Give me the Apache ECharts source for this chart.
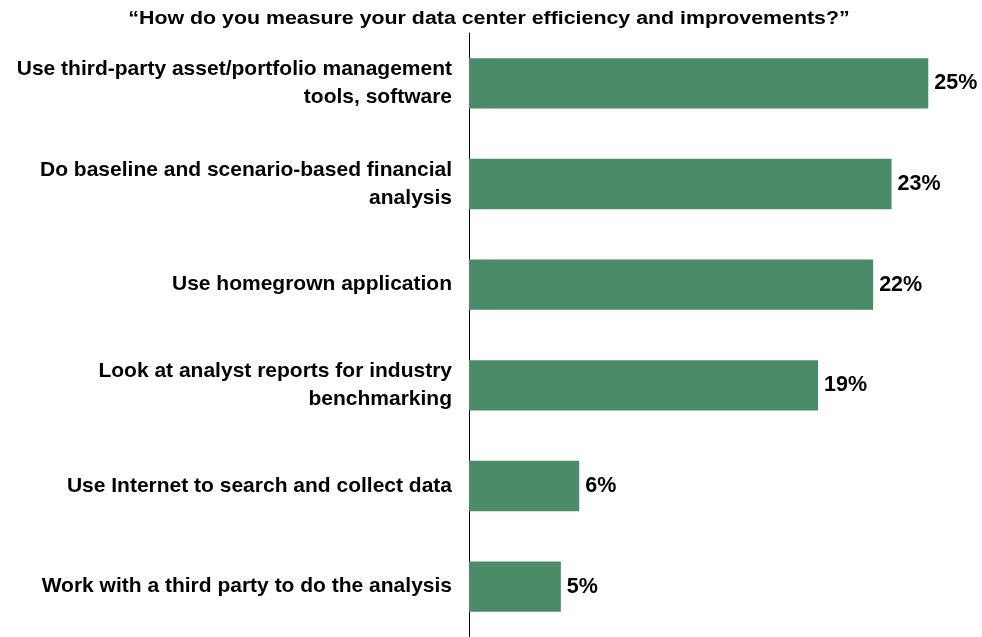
<!DOCTYPE html>
<html>
<head>
<meta charset="utf-8">
<script src="https://cdn.jsdelivr.net/npm/echarts@6/dist/echarts.min.js"></script>
<style>
  html, body { margin: 0; padding: 0; background: #ffffff; }
  #chart { width: 982px; height: 637px; }
</style>
</head>
<body>
<div id="chart"></div>
<script>
// Survey answers, top to bottom
const categories = [
  'Use third-party asset/portfolio management\ntools, software',
  'Do baseline and scenario-based financial\nanalysis',
  'Use homegrown application',
  'Look at analyst reports for industry\nbenchmarking',
  'Use Internet to search and collect data',
  'Work with a third party to do the analysis'
];
const shares = [25, 23, 22, 19, 6, 5];
const question = '\u201CHow do you measure your data center efficiency and improvements?\u201D';

const FONT = '"Liberation Sans", Arial, Helvetica, sans-serif';

const chart = echarts.init(document.getElementById('chart'));
chart.setOption({
  animation: false,
  backgroundColor: '#ffffff',
  // Question heading, drawn slightly widened
  graphic: [{
    type: 'text',
    x: 489,
    y: 10,
    scaleX: 1.22,
    style: {
      text: question,
      align: 'center',
      verticalAlign: 'top',
      fontFamily: FONT,
      fontWeight: 'bold',
      fontSize: 17.5,
      fill: '#000000'
    }
  }],
  grid: { left: 469, right: 17, top: 33, bottom: 0, containLabel: false },
  xAxis: {
    type: 'value',
    min: 0,
    max: 27,
    show: false
  },
  yAxis: {
    type: 'category',
    inverse: true,
    data: categories,
    axisLine: { show: true, lineStyle: { color: '#000000', width: 1 } },
    axisTick: { show: false },
    axisLabel: {
      margin: 17,
      fontFamily: FONT,
      fontWeight: 'bold',
      fontSize: 21,
      lineHeight: 28,
      color: '#000000',
      align: 'right'
    }
  },
  series: [{
    type: 'bar',
    data: shares,
    barWidth: '50%',
    itemStyle: { color: '#4a8c68' },
    label: {
      show: true,
      position: 'right',
      distance: 6,
      formatter: '{c}%',
      fontFamily: FONT,
      fontWeight: 'bold',
      fontSize: 21.5,
      color: '#000000'
    }
  }]
});
</script>
</body>
</html>
